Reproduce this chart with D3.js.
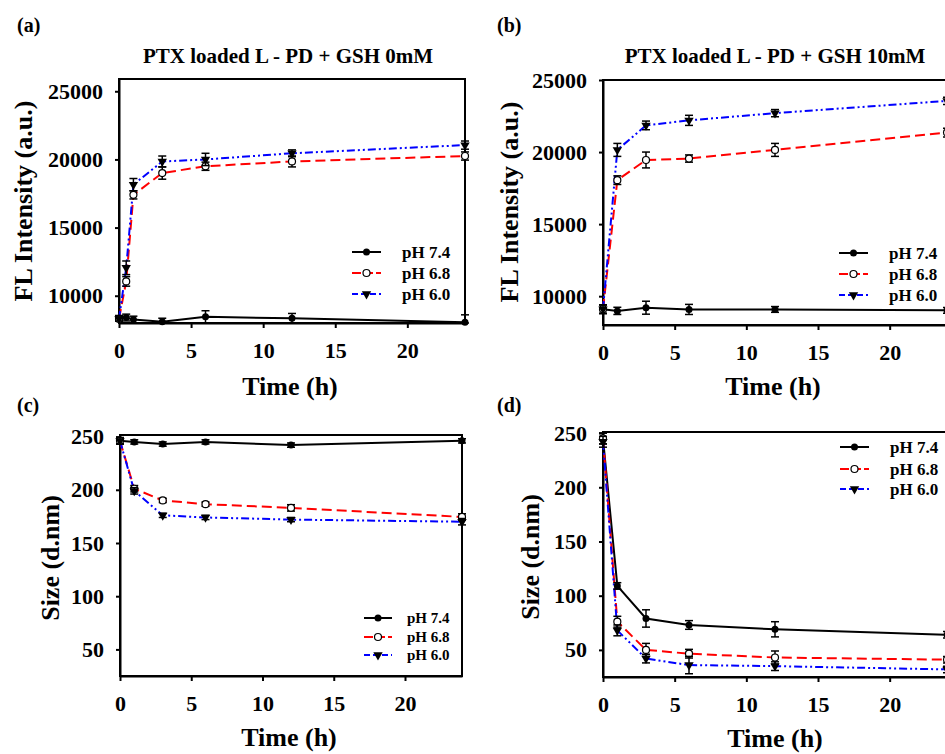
<!DOCTYPE html>
<html lang="en">
  <head>
    <meta charset="UTF-8" />
    <title>PTX loaded L-PD release and size</title>
    <script src="https://d3js.org/d3.v7.min.js"></script>
    <style>
      body {
        margin: 0;
        background: #fff;
      }
      svg text {
        font-family: "Liberation Serif", "Times New Roman", serif;
        font-weight: bold;
        fill: #000;
      }
      .axis path,
      .axis line {
        stroke: #000;
        stroke-width: 2px;
      }
    </style>
  </head>
  <body>
    <svg id="svg" width="945" height="754"></svg>
    <script>
      // time points (h)
      const timesA = [0, 0.5, 1, 3, 6, 12, 24];
      const times = [0, 1, 3, 6, 12, 24];
      const seriesNames = ["pH 7.4", "pH 6.8", "pH 6.0"];
      const xTicks = [0, 5, 10, 15, 20];

      // (a) FL intensity, GSH 0mM
      const flA74 = [8350, 8400, 8250, 8100, 8450, 8350, 8050];
      const flA68 = [8300, 11050, 17400, 19000, 19500, 19850, 20250];
      const flA60 = [8300, 12050, 18150, 19850, 20000, 20450, 21050];
      const flA74err = [200, 250, 250, 250, 450, 350, 550];
      const flA68err = [150, 350, 300, 450, 300, 400, 300];
      const flA60err = [150, 500, 450, 400, 450, 250, 300];

      // (b) FL intensity, GSH 10mM
      const flB74 = [9100, 8980, 9200, 9080, 9080, 9020];
      const flB68 = [9100, 18050, 19450, 19550, 20150, 21350];
      const flB60 = [9100, 20150, 21850, 22200, 22700, 23550];
      const flB74err = [300, 250, 450, 350, 200, 200];
      const flB68err = [300, 300, 550, 250, 450, 300];
      const flB60err = [300, 450, 300, 350, 250, 250];

      // (c) size, GSH 0mM
      const sizeC74 = [246, 245, 243, 245, 242, 246];
      const sizeC68 = [246, 201, 190, 186.5, 183, 174.5];
      const sizeC60 = [246, 199, 176, 174, 172, 170];
      const sizeC74err = [3, 2, 2, 2, 2, 2];
      const sizeC68err = [3, 3, 2, 2, 3, 3];
      const sizeC60err = [3, 3, 2, 2, 2, 3];

      // (d) size, GSH 10mM
      const sizeD74 = [245, 109, 79, 73, 69, 64];
      const sizeD68 = [245, 76, 50, 46.5, 43, 41];
      const sizeD60 = [242, 68, 42, 36, 35, 32];
      const sizeD74err = [5, 3, 8, 4, 7, 3];
      const sizeD68err = [5, 5, 6, 4, 6, 3];
      const sizeD60err = [5, 5, 4, 8, 4, 3];

      const flTicks = [10000, 15000, 20000, 25000];
      const sizeTicks = [50, 100, 150, 200, 250];

      const styles = [
        { color: "#000", dash: null, marker: "dot" },
        { color: "#ff0000", dash: "10,5", marker: "open" },
        { color: "#0000ff", dash: "8,3,2,3,2,3", marker: "tri" },
      ];

      const panels = [
        {
          letter: "(a)", lx: 17, ly: 32,
          title: "PTX loaded L - PD + GSH 0mM", tx: 288,
          box: [119, 79, 465, 323], yDomain: [8000, 25900], yTicks: flTicks,
          t: timesA, ys: [flA74, flA68, flA60], errs: [flA74err, flA68err, flA60err],
          yLabel: "FL Intensity (a.u.)", ylx: 32, yly: 201,
          xlx: 290, xly: 395,
          leg: { x1: 352, x2: 381, tx: 402, rows: [252, 273, 294], fs: 17 },
        },
        {
          letter: "(b)", lx: 497, ly: 32,
          title: "PTX loaded L - PD + GSH 10mM", tx: 775,
          box: [603, 80, 947, 325], yDomain: [8000, 25000], yTicks: flTicks,
          t: times, ys: [flB74, flB68, flB60], errs: [flB74err, flB68err, flB60err],
          yLabel: "FL Intensity (a.u.)", ylx: 518, yly: 202,
          xlx: 773, xly: 395,
          leg: { x1: 839, x2: 868, tx: 889, rows: [253, 274, 295], fs: 17 },
        },
        {
          letter: "(c)", lx: 17, ly: 412,
          title: null,
          box: [120, 435, 462, 676], yDomain: [25, 251.5], yTicks: sizeTicks,
          t: times, ys: [sizeC74, sizeC68, sizeC60], errs: [sizeC74err, sizeC68err, sizeC60err],
          yLabel: "Size (d.nm)", ylx: 59, yly: 558,
          xlx: 289, xly: 746,
          leg: { x1: 364, x2: 392, tx: 407, rows: [618, 637, 655], fs: 15 },
        },
        {
          letter: "(d)", lx: 497, ly: 412,
          title: null,
          box: [603, 432, 947, 677], yDomain: [25, 251], yTicks: sizeTicks,
          t: times, ys: [sizeD74, sizeD68, sizeD60], errs: [sizeD74err, sizeD68err, sizeD60err],
          yLabel: "Size (d.nm)", ylx: 539, yly: 557,
          xlx: 775, xly: 747,
          leg: { x1: 840, x2: 869, tx: 890, rows: [447, 469, 489], fs: 17 },
        },
      ];

      const svg = d3.select("#svg");
      svg.append("rect").attr("width", 945).attr("height", 754).attr("fill", "#fff");

      function drawMarker(g, kind, x, y) {
        if (kind === "dot") {
          g.append("circle").attr("cx", x).attr("cy", y).attr("r", 3.5).attr("fill", "#000");
        } else if (kind === "open") {
          g.append("circle").attr("cx", x).attr("cy", y).attr("r", 3.5)
            .attr("fill", "#fff").attr("stroke", "#000").attr("stroke-width", 1.2);
        } else {
          g.append("path")
            .attr("d", d3.symbol().type(d3.symbolTriangle).size(38)())
            .attr("transform", `translate(${x},${y}) rotate(180)`)
            .attr("fill", "#000");
        }
      }

      panels.forEach((p) => {
        const [x0, y0, x1, y1] = p.box;
        const x = d3.scaleLinear().domain([0, 24]).range([x0, x1]);
        const y = d3.scaleLinear().domain(p.yDomain).range([y1, y0]).clamp(true);
        const g = svg.append("g");

        // panel letter + title
        svg.append("text").attr("x", p.lx).attr("y", p.ly).attr("font-size", 20).text(p.letter);
        if (p.title) {
          svg.append("text").attr("x", p.tx).attr("y", 63).attr("text-anchor", "middle")
            .attr("font-size", 21).text(p.title);
        }

        // frame
        g.append("rect").attr("x", x0).attr("y", y0).attr("width", x1 - x0).attr("height", y1 - y0)
          .attr("fill", "none").attr("stroke", "#000").attr("stroke-width", 2);

        // axes
        const yAxis = g.append("g").attr("class", "axis").attr("transform", `translate(${x0},0)`)
          .call(d3.axisLeft(y).tickValues(p.yTicks).tickSize(4).tickSizeOuter(0).tickPadding(12).tickFormat(d3.format("d")));
        const xAxis = g.append("g").attr("class", "axis").attr("transform", `translate(0,${y1})`)
          .call(d3.axisBottom(x).tickValues(xTicks).tickSize(5).tickSizeOuter(0).tickPadding(14));
        [yAxis, xAxis].forEach((a) => {
          a.selectAll("text").attr("font-size", 22).attr("font-family", null);
          a.attr("font-family", null);
        });

        // axis titles
        svg.append("text").attr("transform", `translate(${p.ylx},${p.yly}) rotate(-90)`)
          .attr("text-anchor", "middle").attr("font-size", 26).text(p.yLabel);
        svg.append("text").attr("x", p.xlx).attr("y", p.xly).attr("text-anchor", "middle")
          .attr("font-size", 26).text("Time (h)");

        const line = d3.line().x((d) => x(d[0])).y((d) => y(d[1]));

        // series lines
        p.ys.forEach((vals, i) => {
          const pts = p.t.map((t, j) => [t, vals[j]]);
          g.append("path").datum(pts).attr("d", line).attr("fill", "none")
            .attr("stroke", styles[i].color).attr("stroke-width", 2)
            .attr("stroke-dasharray", styles[i].dash);
        });

        // error bars + markers
        p.ys.forEach((vals, i) => {
          const eg = g.append("g");
          p.t.forEach((t, j) => {
            const cx = x(t);
            const lo = y(vals[j] - p.errs[i][j]);
            const hi = y(vals[j] + p.errs[i][j]);
            eg.append("line").attr("x1", cx).attr("x2", cx).attr("y1", lo).attr("y2", hi)
              .attr("stroke", "#000").attr("stroke-width", 1.5);
            [lo, hi].forEach((yy) => {
              eg.append("line").attr("x1", cx - 4).attr("x2", cx + 4).attr("y1", yy).attr("y2", yy)
                .attr("stroke", "#000").attr("stroke-width", 1.5);
            });
          });
          p.t.forEach((t, j) => drawMarker(eg, styles[i].marker, x(t), y(vals[j])));
        });

        // legend
        const lg = svg.append("g");
        seriesNames.forEach((name, i) => {
          const ry = p.leg.rows[i];
          lg.append("line").attr("x1", p.leg.x1).attr("x2", p.leg.x2).attr("y1", ry).attr("y2", ry)
            .attr("stroke", styles[i].color).attr("stroke-width", 2)
            .attr("stroke-dasharray", i === 1 ? "9,3" : i === 2 ? "6,3" : null);
          drawMarker(lg, styles[i].marker, (p.leg.x1 + p.leg.x2) / 2, ry);
          lg.append("text").attr("x", p.leg.tx).attr("y", ry).attr("dy", "0.35em")
            .attr("font-size", p.leg.fs).text(name);
        });
      });
    </script>
  </body>
</html>
